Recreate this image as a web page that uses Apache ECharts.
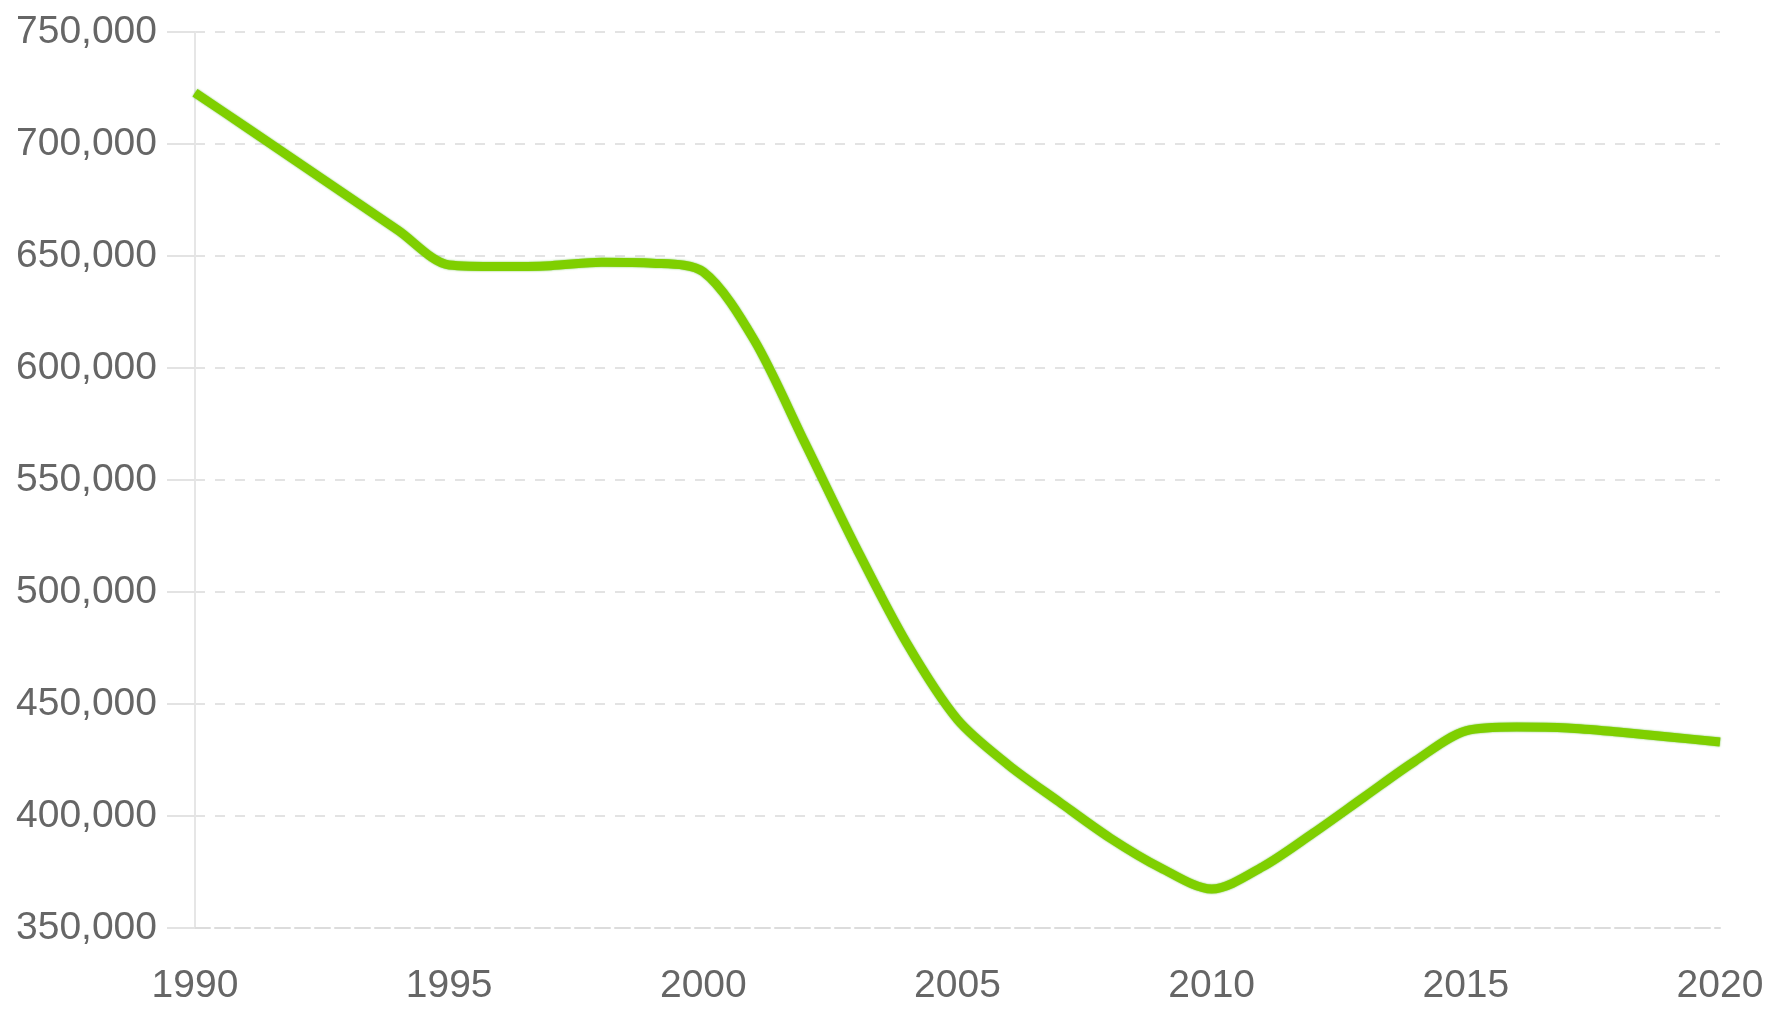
<!DOCTYPE html>
<html>
<head>
<meta charset="utf-8">
<script src="https://cdn.jsdelivr.net/npm/echarts@6/dist/echarts.min.js"></script>
<style>
  html, body { margin: 0; padding: 0; background: #ffffff; }
  #chart { width: 1770px; height: 1017px; }
</style>
</head>
<body>
<div id="chart"></div>
<script>
const years = ['1990','1991','1992','1993','1994','1995','1996','1997','1998','1999',
               '2000','2001','2002','2003','2004','2005','2006','2007','2008','2009',
               '2010','2011','2012','2013','2014','2015','2016','2017','2018','2019','2020'];
const values = [722900, 707600, 692200, 676800, 661400, 646000, 645300, 645700, 647200, 646800,
                642900, 612500, 566500, 520100, 477200, 443000, 422800, 406300, 390200, 376800,
                367400, 377300, 392400, 408500, 424500, 438000, 439700, 439300, 437500, 435300, 433000];
const yMin = 350000, yMax = 750000, yStep = 50000;

const chart = echarts.init(document.getElementById('chart'), null, { renderer: 'canvas' });
const labelFont = { fontFamily: '"Liberation Sans", Arial, sans-serif', fontSize: 39, color: '#666666' };

chart.setOption({
  animation: false,
  backgroundColor: '#ffffff',
  grid: { left: 195, right: 50, top: 32, bottom: 89, containLabel: false },
  xAxis: {
    type: 'category',
    data: years,
    boundaryGap: false,
    axisLine: { show: true, lineStyle: { color: '#dcdcdc', width: 2, type: [15, 5] } },
    axisTick: { show: false },
    axisLabel: Object.assign({ interval: 4, margin: 39 }, labelFont),
    splitLine: { show: false }
  },
  yAxis: {
    type: 'value',
    min: yMin, max: yMax, interval: yStep,
    axisLine: { show: true, lineStyle: { color: '#e6e6e6', width: 2 } },
    axisTick: { show: true, length: 28, lineStyle: { color: '#e3e3e3', width: 2 } },
    axisLabel: Object.assign({
      margin: 38,
      formatter: v => v.toLocaleString('en-US')
    }, labelFont),
    splitLine: { show: true, lineStyle: { color: '#e3e3e3', width: 2, type: [10, 10] } }
  },
  series: [{
    type: 'line',
    data: values,
    smooth: 0.3,
    showSymbol: false,
    lineStyle: { color: '#7fcf00', width: 9, shadowColor: 'rgba(60,170,0,0.7)', shadowBlur: 2 }
  }]
});
</script>
</body>
</html>
